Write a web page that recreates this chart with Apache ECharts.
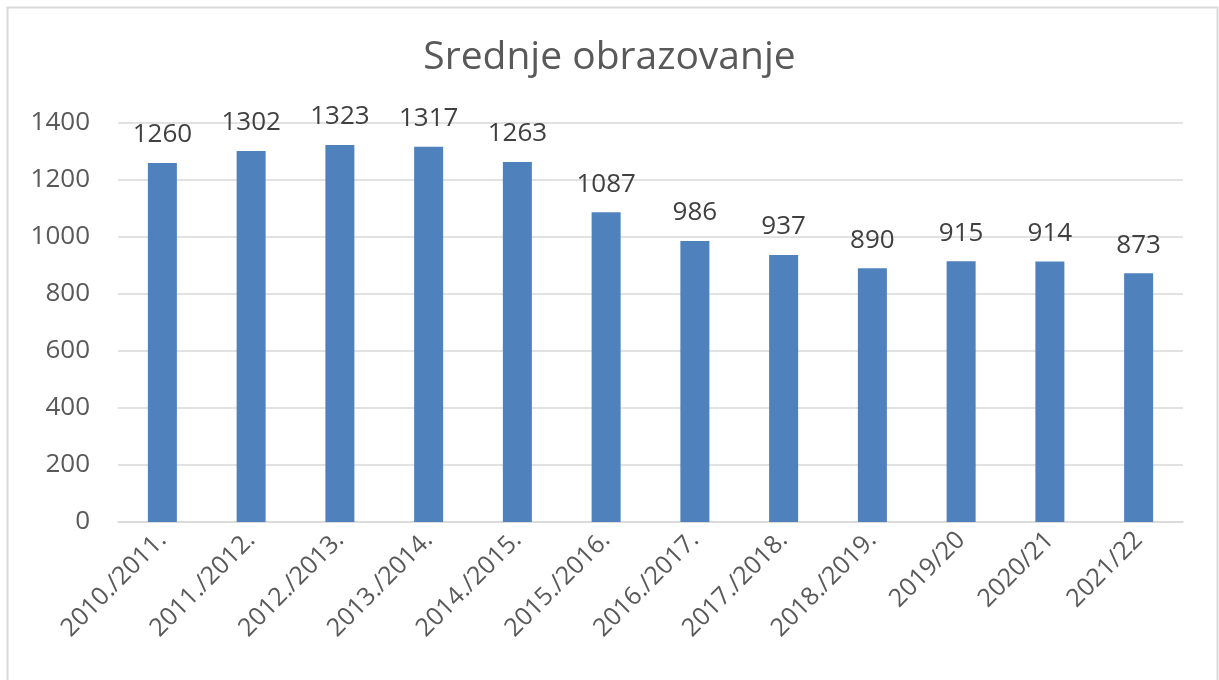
<!DOCTYPE html>
<html><head><meta charset="utf-8">
<script src="https://cdn.jsdelivr.net/npm/echarts@6/dist/echarts.min.js"></script>
<style>html,body{margin:0;padding:0;background:#fff}#c{width:1219px;height:680px}</style>
</head><body><div id="c"></div>
<script>
const categories = ["2010./2011.","2011./2012.","2012./2013.","2013./2014.","2014./2015.","2015./2016.","2016./2017.","2017./2018.","2018./2019.","2019/20","2020/21","2021/22"];
const values = [1260,1302,1323,1317,1263,1087,986,937,890,915,914,873];
const titleText = "Srednje obrazovanje";
const font = "'Open Sans', 'Noto Sans', sans-serif";
const chart = echarts.init(document.getElementById('c'));
chart.setOption({
  animation:false,
  title:{text:titleText,left:'center',top:33,textStyle:{fontFamily:font,fontSize:39,fontWeight:'normal',color:'#595959'}},
  graphic:[{type:'rect',shape:{x:7.5,y:7.5,width:1210,height:690},style:{fill:'none',stroke:'#d9d9d9',lineWidth:2},silent:true}],
  grid:{left:118,right:36,top:123,bottom:158,containLabel:false},
  xAxis:{type:'category',data:categories,axisTick:{show:false},
    axisLine:{lineStyle:{color:'#d9d9d9',width:1.5}},
    axisLabel:{rotate:45,fontFamily:font,fontSize:25,color:'#595959',margin:14,interval:0}},
  yAxis:{type:'value',min:0,max:1400,interval:200,
    axisLine:{show:false},axisTick:{show:false},
    splitLine:{lineStyle:{color:'#d9d9d9',width:1.5}},
    axisLabel:{fontFamily:font,fontSize:26,color:'#595959',margin:28,formatter:v=>String(v)}},
  series:[{type:'bar',data:values,barWidth:29,itemStyle:{color:'#4f81bd'},
    label:{show:true,position:'top',distance:15,fontFamily:font,fontSize:26,color:'#404040'}}]
});
</script></body></html>
